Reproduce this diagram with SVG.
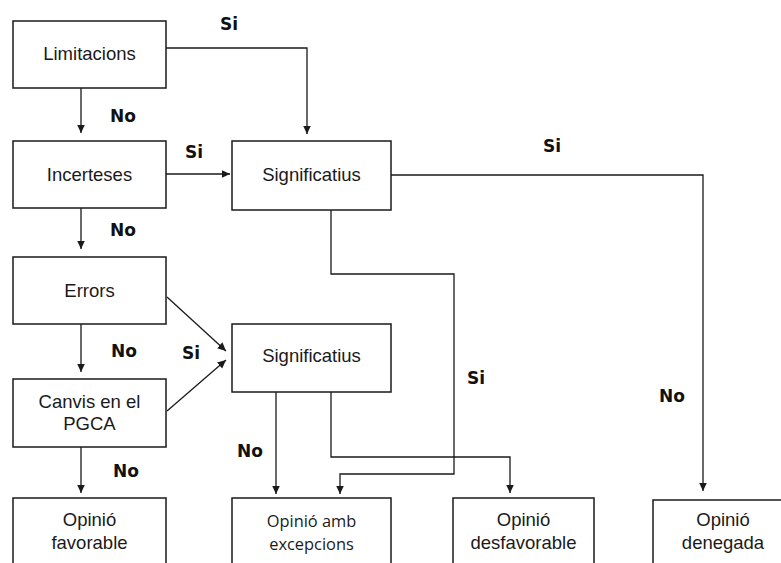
<svg xmlns="http://www.w3.org/2000/svg" width="781" height="563" viewBox="0 0 781 563">
<style>
.box{fill:#fff;stroke:#1a1a1a;stroke-width:1.5}
.t{font-family:"Liberation Sans",Arial,sans-serif;font-size:18.5px;fill:#1a1a1a;text-anchor:middle}
.t2{font-family:"Open Sans","Liberation Sans",sans-serif;font-size:16.4px;fill:#1a1a1a;text-anchor:middle}
.lb{font-family:"DejaVu Sans",Verdana,sans-serif;font-weight:bold;font-size:17px;fill:#111}
.c{fill:none;stroke:#1a1a1a;stroke-width:1.3}
</style>
<defs>
<marker id="ah" markerUnits="userSpaceOnUse" markerWidth="10" markerHeight="9" refX="8.5" refY="4" orient="auto">
<path d="M0,0 L8.5,4 L0,8 z" fill="#1a1a1a"/>
</marker>
</defs>
<rect width="781" height="563" fill="#fff"/>
<g id="connectors">
<path class="c" marker-end="url(#ah)" d="M81,88 V133"/>
<path class="c" marker-end="url(#ah)" d="M166,48 H307 V134"/>
<path class="c" marker-end="url(#ah)" d="M166,174 H230"/>
<path class="c" marker-end="url(#ah)" d="M81,208 V249"/>
<path class="c" marker-end="url(#ah)" d="M391,175 H703 V491"/>
<path class="c" marker-end="url(#ah)" d="M331,210 V274 H454 V474 H340 V494"/>
<path class="c" marker-end="url(#ah)" d="M167,297 L226,351"/>
<path class="c" marker-end="url(#ah)" d="M167,411 L226,360"/>
<path class="c" marker-end="url(#ah)" d="M81,324 V372"/>
<path class="c" marker-end="url(#ah)" d="M81,447 V493"/>
<path class="c" marker-end="url(#ah)" d="M276,392 V494"/>
<path class="c" marker-end="url(#ah)" d="M331,392 V457 H510 V493"/>
</g>
<g id="labels">
<text class="lb" x="220" y="30">Si</text>
<text class="lb" x="110" y="122">No</text>
<text class="lb" x="185" y="158">Si</text>
<text class="lb" x="110" y="236">No</text>
<text class="lb" x="111" y="357">No</text>
<text class="lb" x="182" y="359">Si</text>
<text class="lb" x="113" y="477">No</text>
<text class="lb" x="237" y="457">No</text>
<text class="lb" x="467" y="384">Si</text>
<text class="lb" x="543" y="152">Si</text>
<text class="lb" x="659" y="402">No</text>
</g>
<g id="limitacions"><rect class="box" x="13" y="21" width="153" height="67"/><text class="t" x="89.5" y="60">Limitacions</text></g>
<g id="incerteses"><rect class="box" x="13" y="141" width="153" height="67"/><text class="t" x="89.5" y="181">Incerteses</text></g>
<g id="errors"><rect class="box" x="13" y="257" width="153" height="67"/><text class="t" x="89.5" y="297">Errors</text></g>
<g id="canvis"><rect class="box" x="13" y="379" width="153" height="68"/><text class="t" x="89.5" y="408">Canvis en el</text><text class="t" x="89.5" y="430">PGCA</text></g>
<g id="significatius1"><rect class="box" x="232" y="141" width="159" height="69"/><text class="t" x="311.5" y="181">Significatius</text></g>
<g id="significatius2"><rect class="box" x="232" y="324" width="159" height="68"/><text class="t" x="311.5" y="362">Significatius</text></g>
<g id="favorable"><rect class="box" x="13" y="498" width="153" height="80"/><text class="t" x="89.5" y="526">Opinió</text><text class="t" x="89.5" y="549">favorable</text></g>
<g id="excepcions"><rect class="box" x="232" y="498" width="159" height="80"/><text class="t2" x="311.5" y="527">Opinió amb</text><text class="t2" x="311.5" y="550">excepcions</text></g>
<g id="desfavorable"><rect class="box" x="453" y="498" width="141" height="80"/><text class="t" x="523.5" y="526">Opinió</text><text class="t" x="523.5" y="549">desfavorable</text></g>
<g id="denegada"><rect class="box" x="653" y="500" width="140" height="80"/><text class="t" x="723" y="526">Opinió</text><text class="t" x="723" y="549">denegada</text></g>
</svg>
